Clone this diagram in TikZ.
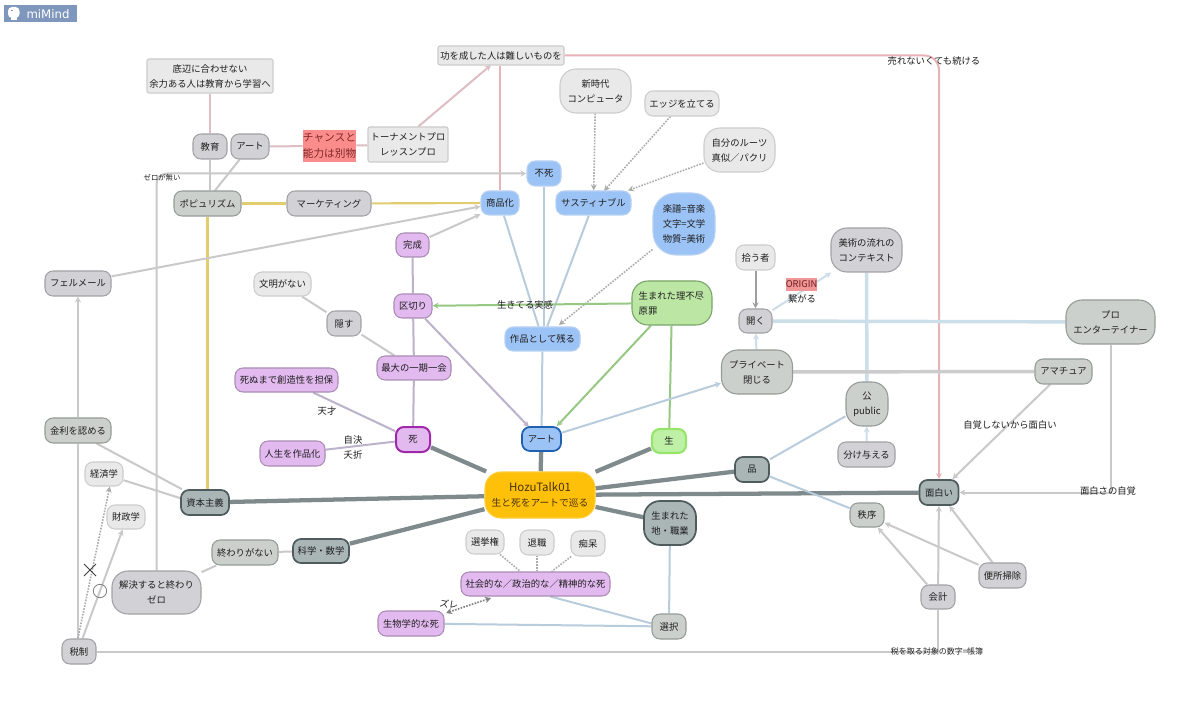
\documentclass[tikz,border=0pt]{standalone}
\usepackage{fontspec}
\setmainfont{Noto Sans CJK JP}
\newfontfamily\latinfont{DejaVu Sans}
\usetikzlibrary{arrows.meta,backgrounds}
\definecolor{txt}{HTML}{1E1E1E}
\definecolor{lgF}{HTML}{E9E9E9}\definecolor{lgD}{HTML}{CCCCCC}
\definecolor{mgF}{HTML}{D2D2D6}\definecolor{mgD}{HTML}{A2A2A6}
\definecolor{sgF}{HTML}{CBD0CD}\definecolor{sgD}{HTML}{959C98}
\definecolor{dgF}{HTML}{AAB5B6}\definecolor{dgD}{HTML}{4E5C5E}
\definecolor{puF}{HTML}{E3BAF0}\definecolor{puD}{HTML}{A98DB4}
\definecolor{blF}{HTML}{9CC3F5}\definecolor{blD}{HTML}{B9D2F2}
\definecolor{grF}{HTML}{BCE6A4}\definecolor{grD}{HTML}{77A566}
\definecolor{edG}{HTML}{C9C9C9}\definecolor{edP}{HTML}{E8B2B9}\definecolor{edR}{HTML}{DDBEC4}
\definecolor{edY}{HTML}{E2CD6E}\definecolor{edB}{HTML}{B8CCDC}\definecolor{edL}{HTML}{CCDEE8}
\definecolor{edV}{HTML}{BDB2CB}\definecolor{edN}{HTML}{96C884}\definecolor{edT}{HTML}{7F8A8C}
\definecolor{logoF}{RGB}{127,151,189}
\tikzset{
  bw/.style={minimum width=#1*0.75pt},
  bh/.style={minimum height=#1*0.75pt},
  box/.style={draw,line width=0.8pt,inner sep=0pt,align=center,text=txt,
     font=\fontsize{7}{11.25}\selectfont,rounded corners=6pt},
  big/.style={rounded corners=12pt},
  lg/.style={box,fill=lgF,draw=lgD},
  mg/.style={box,fill=mgF,draw=mgD},
  sg/.style={box,fill=sgF,draw=sgD},
  dg/.style={box,fill=dgF,draw=dgD,line width=1.3pt},
  pu/.style={box,fill=puF,draw=puD},
  bl/.style={box,fill=blF,draw=blD},
  gr/.style={box,fill=grF,draw=grD},
  sq/.style={rounded corners=1.5pt},
  lab/.style={inner sep=0pt,text=txt,font=\fontsize{7}{9}\selectfont},
  tip/.style={-{Stealth[length=4.5pt,width=4.5pt]}},
  ln/.style={line width=1.5pt,color=edG},
  thickln/.style={line width=3.2pt,color=edT},
  lnP/.style={ln,color=edP},
  lnR/.style={ln,color=edR},
  lnY/.style={ln,line width=1.6pt,color=edY},
  lnB/.style={ln,color=edB},
  lnL/.style={line width=2.6pt,color=edL},
  lnV/.style={ln,color=edV},
  lnN/.style={ln,color=edN},
  dots/.style={line width=1.2pt,color=edG!85!black,densely dotted}
}
\begin{document}
\begin{tikzpicture}[x=0.75pt,y=-0.75pt]
\useasboundingbox (0,0) rectangle (1200,709);
% logo
\node[fill=logoF,minimum width=54.75pt,minimum height=12.75pt,inner sep=0pt] (logo) at (40.5,13.5) {};
\fill[white,rounded corners=3pt] (8,7) rectangle (19.5,18);
\fill[white] (11,17) rectangle (17,20.5);
\fill[logoF] (10.5,10) rectangle (13,11.5);
\node[inner sep=0pt,text=white,font=\latinfont\fontsize{8.8}{10}\selectfont] (logotext) at (48,14) {miMind};
% nodes
\node[lg,sq,bw=126,bh=34] (sokohen) at (210,76) {底辺に合わせない\\余力ある人は教育から学習へ};
\node[mg,bw=34,bh=25] (kyoiku) at (210,146.5) {教育};
\node[mg,bw=38,bh=25] (artb) at (250,146.5) {アート};
\node[inner sep=0pt,bw=53,bh=32,align=center,fill={rgb,255:red,250;green,140;blue,140},text={rgb,255:red,130;green,40;blue,40},font=\fontsize{8}{12}\selectfont] (chance) at (329.5,146) {チャンスと\\能力は別物};
\node[lg,sq,bw=80,bh=35] (tour) at (408,144.5) {トーナメントプロ\\レッスンプロ};
\node[sg,bw=67,bh=25] (popu) at (207.5,203.5) {ポピュリズム};
\node[mg,bw=84,bh=25] (market) at (329,203.5) {マーケティング};
\node[lg,sq,bw=126,bh=19] (ko) at (501,55.5) {功を成した人は難しいものを};
\node[lg,big,bw=71,bh=44] (shin) at (595.5,91) {新時代\\コンピュータ};
\node[lg,bw=74,bh=25] (edge) at (682,103.5) {エッジを立てる};
\node[lg,big,bw=71,bh=44] (roots) at (739.5,150) {自分のルーツ\\真似／パクリ};
\node[bl,bw=34,bh=25] (fushi) at (544,173.5) {不死};
\node[bl,bw=38,bh=24] (shohin) at (500,203) {商品化};
\node[bl,bw=75,bh=24] (sus) at (593.5,203) {サスティナブル};
\node[bl,rounded corners=17pt,bw=62,bh=62] (gakufu) at (684,224) {楽譜=音楽\\文字=文学\\物質=美術};
\node[lg,bw=39,bh=25] (hirou) at (755.5,257.5) {拾う者};
\node[mg,big,bw=71,bh=44] (bijutsu) at (866.5,250) {美術の流れの\\コンテキスト};
\node[pu,bw=33,bh=24] (kansei) at (412.5,245) {完成};
\node[pu,bw=38,bh=24] (kugiri) at (413,306) {区切り};
\node[lg,bw=57,bh=24] (bunmei) at (282.5,284) {文明がない};
\node[mg,bw=34,bh=25] (kakusu) at (344,323.5) {隠す};
\node[pu,bw=74,bh=24] (saidai) at (414,368) {最大の一期一会};
\node[pu,bw=103,bh=24] (shinu) at (286.5,380) {死ぬまで創造性を担保};
\node[pu,line width=1.5pt,draw={rgb,255:red,160;green,40;blue,170},bw=34,bh=25] (shi) at (413,439.5) {死};
\node[pu,bw=65,bh=25] (jinsei) at (292.5,453.5) {人生を作品化};
\node[bl,bw=75,bh=24] (sakuhin) at (542.5,339) {作品として残る};
\node[bl,line width=1.3pt,draw={rgb,255:red,32;green,96;blue,176},bw=39,bh=24] (art) at (541.5,439) {アート};
\node[gr,big,bw=80,bh=44,align=left,text width=50pt] (umare) at (672,303) {生まれた理不尽\\原罪};
\node[mg,bw=33,bh=24] (hiraku) at (755.5,321) {開く};
\node[sg,big,bw=71,bh=44] (private) at (757,372) {プライベート\\閉じる};
\node[sg,big,bw=42,bh=44] (pub) at (867,404) {公\\public};
\node[sg,big,bw=89,bh=44] (pro) at (1110.5,322) {プロ\\エンターテイナー};
\node[sg,bw=57,bh=25] (ama) at (1063.5,371.5) {アマチュア};
\node[mg,bw=57,bh=25] (wake) at (866.5,454.5) {分け与える};
\node[box,line width=1.6pt,fill={rgb,255:red,190;green,240;blue,165},draw={rgb,255:red,150;green,228;blue,105},bw=34,bh=24] (sei) at (669,441) {生};
\node[dg,bw=34,bh=25] (hin) at (752,469.5) {品};
\node[dg,bw=39,bh=25] (omo) at (939,492.5) {面白い};
\node[inner sep=0pt,bw=31,bh=13,fill={rgb,255:red,240;green,150;blue,150},text={rgb,255:red,110;green,30;blue,30},font=\fontsize{7}{9}\selectfont] (origin) at (801.5,284.5) {ORIGIN};
\node[sg,bw=34,bh=24] (chitsujo) at (867,515) {秩序};
\node[mg,bw=47,bh=25] (benjo) at (1002.5,575.5) {便所掃除};
\node[mg,bw=34,bh=24] (kaikei) at (938,597) {会計};
\node[mg,bw=66,bh=25] (fermer) at (78,283.5) {フェルメール};
\node[sg,bw=66,bh=25] (kinri) at (78,430.5) {金利を認める};
\node[lg,bw=38,bh=24] (keizai) at (104,474) {経済学};
\node[lg,bw=38,bh=24] (zaisei) at (126,517) {財政学};
\node[dg,bw=48,bh=25] (shihon) at (205,502.5) {資本主義};
\node[sg,bw=66,bh=25] (owari) at (245,552.5) {終わりがない};
\node[dg,bw=56,bh=24] (kagaku) at (321,551) {科学・数学};
\node[mg,big,bw=89,bh=43] (kaiketsu) at (156.5,592.5) {解決すると終わり\\ゼロ};
\node[mg,bw=34,bh=25] (zeisei) at (79,651.5) {税制};
\node[box,fill={rgb,255:red,255;green,192;blue,10},draw={rgb,255:red,255;green,205;blue,60},big,bw=110,bh=46,text={rgb,255:red,70;green,50;blue,10},font=\fontsize{7.3}{11.5}\selectfont] (hozu) at (540,495) {{\fontsize{8.6}{11.5}\selectfont HozuTalk01}\\生と死をアートで巡る};
\node[dg,big,bw=52,bh=44] (chi) at (670,523) {生まれた\\地・職業};
\node[lg,bw=38,bh=24] (senkyo) at (485,542) {選挙権};
\node[lg,bw=34,bh=25] (taishoku) at (537,542.5) {退職};
\node[lg,bw=34,bh=25] (chiho) at (588,543.5) {痴呆};
\node[pu,bw=149,bh=24] (shakai) at (535.5,584) {社会的な／政治的な／精神的な死};
\node[pu,bw=66,bh=25] (seibutsu) at (411,623.5) {生物学的な死};
\node[sg,bw=34,bh=25] (sentaku) at (669,626.5) {選択};
% labels
\node[lab] (urenai) at (934,61) {売れないくても続ける};
\node[lab,font=\fontsize{5.5}{7}\selectfont] (zerol) at (162,178) {ゼロが無い};
\node[lab] (ikiteru) at (525,305) {生きてる実感};
\node[lab] (tensai) at (327,411) {天才};
\node[lab] (jiketsu) at (353,440) {自決};
\node[lab] (yosetsu) at (353,455) {夭折};
\node[lab] (tsunagaru) at (802,299) {繋がる};
\node[lab] (jikaku) at (1010,425) {自覚しないから面白い};
\node[lab] (jikaku2) at (1108,491) {面白さの自覚};
\node[lab,font=\fontsize{6}{8}\selectfont] (zeiwo) at (937,651) {税を取る対象の数字=帳簿};
\node[lab,rotate=-10] (zure) at (449,604) {ズレ};
\draw[color=gray,line width=0.6pt] (100,591) circle (5pt);
\draw[color=black!75,line width=0.7pt] (84,564) -- (96,576) (96,564) -- (84,576);
% free ends of connectors
\coordinate (koIn) at (491,65);
\coordinate (zureA) at (446,613);
\coordinate (zureB) at (491,598);
\coordinate (sakIn) at (559,325);
\coordinate (susIn) at (604,191);
\coordinate (artIn) at (529,427);
% connectors
\begin{pgfonlayer}{background}
\fill[white] (0,0) rectangle (1200,709);
\foreach \t in {shi,art,sei,hin,omo,chi,kagaku,shihon}
  \draw[thickln] (hozu) -- (\t);
\draw[lnR] (sokohen) -- (kyoiku);
\draw[ln] (kyoiku) -- (kyoiku |- popu.north);
\draw[ln] (artb) -- (popu.60);
\draw[lnR] (artb) -- (chance);
\draw[lnR] (chance) -- (tour);
\draw[lnR,tip] (tour.60) -- (koIn);
\draw[lnP] (shohin) -- (shohin |- ko.south);
\draw[lnP,tip,rounded corners=11pt] (ko.east) -- (ko.east -| omo.north) -- (omo.north);
\draw[lnY] (popu) -- (market);
\draw[lnY] (market) -- (shohin);
\draw[lnY] (popu.south) -- (popu.south |- shihon.north);
\draw[ln,tip,rounded corners=8pt] (kaiketsu.north) -- (kaiketsu.north |- fushi.west) -- (fushi.west);
\draw[ln,tip] (fermer.12) -- (shohin.-170);
\draw[ln,tip] (kansei.25) -- (shohin.-150);
\draw[ln,tip] (kinri.north) -- (fermer.south);
\draw[ln] (kinri.south) -- (zeisei.north -| kinri.south);
\draw[ln] (kinri.-35) -- (shihon.150);
\draw[ln] (keizai) -- (shihon.170);
\draw[dots,tip] (zeisei.95) -- (keizai.-65);
\draw[ln,tip] (zeisei.75) -- (zaisei.-105);
\draw[ln] (owari) -- (kagaku);
\draw[ln] (owari) -- (kaiketsu);
\draw[ln] (zeisei) -- (zeisei -| kaikei) -- (kaikei);
\draw[ln,tip] (kaikei) -- (omo);
\draw[ln,tip] (kaikei) -- (chitsujo);
\draw[ln,tip] (benjo) -- (chitsujo);
\draw[ln,tip] (benjo) -- (omo);
\draw[lnB] (hin) -- (chitsujo);
\draw[lnB] (hin) -- (pub);
\draw[ln,color=edL,tip] (wake) -- (pub);
\draw[lnL] (bijutsu) -- (pub);
\draw[lnL] (hiraku) -- (pro);
\draw[line width=2.6pt,color=lgD] (private) -- (ama);
\draw[ln,color=edL,tip] (private) -- (hiraku);
\draw[ln,color=gray!75,tip] (hirou) -- (hiraku);
\draw[ln,color=edL,tip] (hiraku) -- (bijutsu);
\draw[ln,tip] (ama) -- (omo.45);
\draw[ln,tip] (pro.south) -- (pro.south |- omo.east) -- (omo.east);
\draw[lnB] (chi) -- (sentaku);
\draw[lnB] (shakai.-40) -- (sentaku.170);
\draw[lnB] (seibutsu) -- (sentaku);
\draw[dots] (senkyo) -- (shakai);
\draw[dots] (taishoku) -- (taishoku |- shakai.north);
\draw[dots] (chiho) -- (shakai);
\draw[dots,color=gray,{Stealth[length=4.5pt,width=4.5pt]}-{Stealth[length=4.5pt,width=4.5pt]}] (zureA) -- (zureB);
\draw[lnB] (fushi) -- (fushi |- sakuhin.north);
\draw[lnB] (shohin) -- (sakuhin);
\draw[lnB] (sus) -- (sakuhin);
\draw[lnB] (sakuhin) -- (art);
\draw[dots,tip] (gakufu) -- (sakIn);
\draw[dots,tip] (shin) -- (sus);
\draw[dots,tip] (edge) -- (susIn);
\draw[dots,tip] (roots) -- (sus.20);
\draw[lnN,tip] (umare) -- (kugiri);
\draw[lnN,tip] (umare) -- (art.40);
\draw[lnN] (umare) -- (sei);
\draw[lnB,tip] (art) -- (private);
\draw[lnV,tip] (kugiri) -- (artIn);
\draw[lnV] (kansei) -- (kugiri);
\draw[lnV] (kugiri) -- (saidai);
\draw[lnV] (saidai) -- (shi);
\draw[ln] (saidai) -- (kakusu);
\draw[ln] (kakusu) -- (bunmei);
\draw[lnV] (shinu) -- (shi);
\draw[lnV] (jinsei) -- (shi);
\end{pgfonlayer}
\end{tikzpicture}
\end{document}
